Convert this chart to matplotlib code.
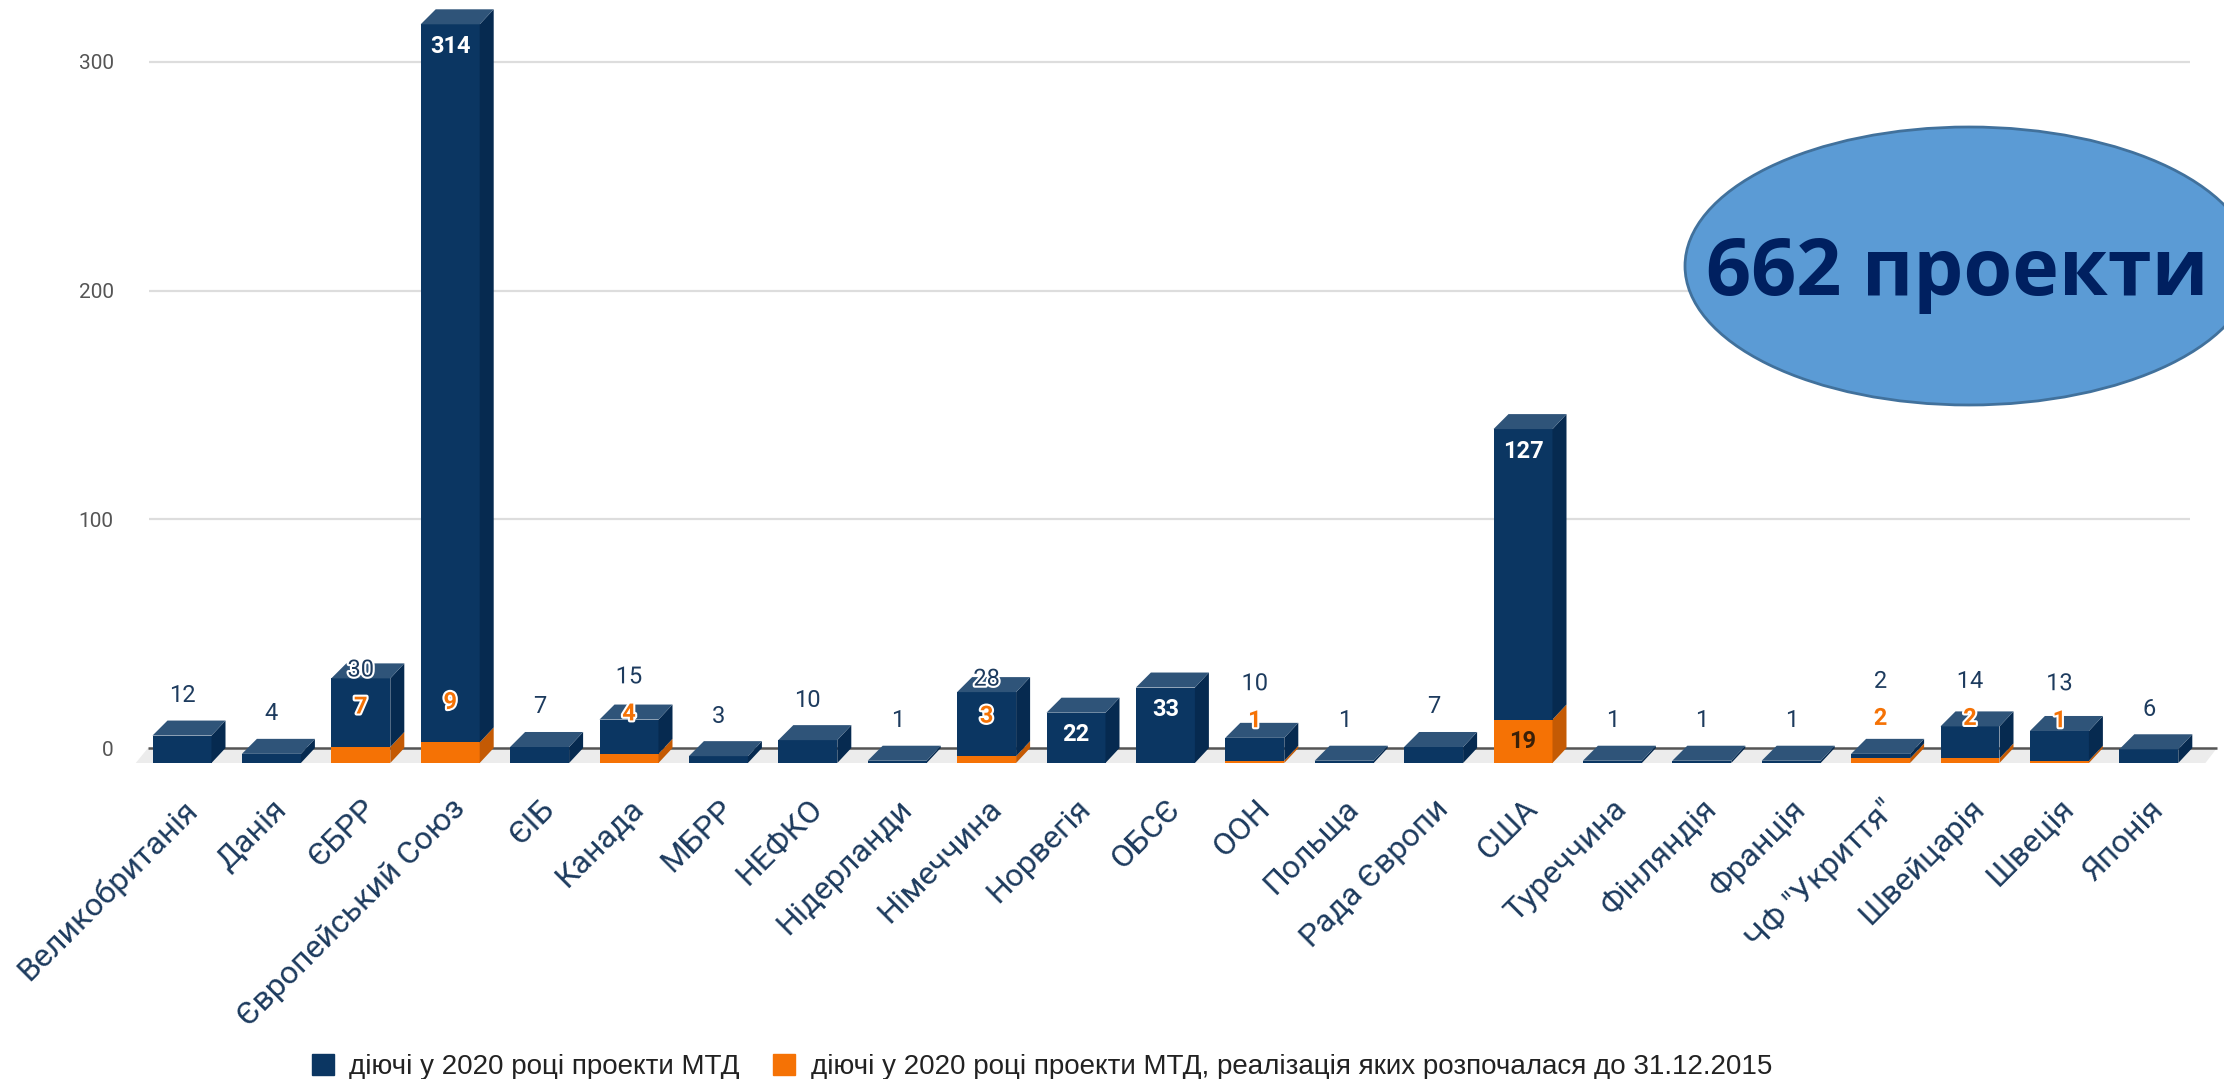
import matplotlib
matplotlib.use("Agg")
import matplotlib.pyplot as plt
import matplotlib.patheffects as pe
from matplotlib.patches import Polygon, Ellipse, Patch
from matplotlib.transforms import ScaledTranslation, IdentityTransform

categories = ["Великобританія", "Данія", "ЄБРР", "Європейський Союз", "ЄІБ", "Канада", "МБРР",
              "НЕФКО", "Нідерланди", "Німеччина", "Норвегія", "ОБСЄ", "ООН", "Польща",
              "Рада Європи", "США", "Туреччина", "Фінляндія", "Франція", 'ЧФ "Укриття"',
              "Швейцарія", "Швеція", "Японія"]
active_2020 = [12, 4, 30, 314, 7, 15, 3, 10, 1, 28, 22, 33, 10, 1, 7, 127, 1, 1, 1, 2, 14, 13, 6]
started_before_2016 = [0, 0, 7, 9, 0, 4, 0, 0, 0, 3, 0, 0, 1, 0, 0, 19, 0, 0, 0, 2, 2, 1, 0]
y_ticks = [0, 100, 200, 300]
legend_labels = ["діючі у 2020 році проекти МТД",
                 "діючі у 2020 році проекти МТД, реалізація яких розпочалася до 31.12.2015"]
badge_text = "662 проекти"

W, H = 2224, 1079
plt.rcParams['font.family'] = ['Roboto', 'DejaVu Sans']
fig = plt.figure(figsize=(W / 100, H / 100), dpi=100, facecolor='white')

PX_X, X0 = 89.4, 182.0       # px per category, px of first category
PX_Y, Y0 = 2.287, 763.0      # px per unit, px row of the front baseline
LEFT = 122
ax = fig.add_axes([LEFT / W, (H - Y0) / H, (W - LEFT) / W, Y0 / H])
ax.set_xlim((LEFT - X0) / PX_X, (W - X0) / PX_X)
ax.set_ylim(0, Y0 / PX_Y)
for s in ax.spines.values():
    s.set_visible(False)

HALF = 29.5 / PX_X
DXL, DXR, DY = 15 / PX_X, 14 / PX_X, 15 / PX_Y
px = lambda p: (p - X0) / PX_X
py = lambda p: (Y0 - p) / PX_Y

NAVY, NAVY_SIDE, NAVY_TOP = '#0b3662', '#062a50', '#2f5479'
ORANGE, ORANGE_SIDE = '#f57205', '#c45a04'
TEXT = '#1d3b5e'

# floor and grid
ax.add_patch(Polygon([(px(148), py(748)), (px(2217), py(748)), (px(2200), py(770)), (px(130), py(770))],
                     closed=True, fc='#ececec', ec='none', zorder=0))
ax.hlines([v + DY for v in y_ticks[1:]], px(149), px(2190), color='#dddddd', lw=1.6, zorder=1)
ax.hlines([DY], px(148), px(2217), color='#555555', lw=1.8, zorder=1)

ax.set_yticks([v + DY for v in y_ticks], [str(v) for v in y_ticks])
ax.tick_params(axis='y', length=0, pad=6, labelsize=15, labelcolor='#555555')
ax.set_xticks(range(len(categories)), categories)
ax.tick_params(axis='x', length=0, pad=0, labelsize=23, labelcolor=TEXT)
offset = ScaledTranslation(0 / 100, -31 / 100, fig.dpi_scale_trans)
for lab in ax.get_xticklabels():
    lab.set(rotation=45, ha='right', va='top', rotation_mode='anchor')
    lab.set_transform(lab.get_transform() + offset)

xs = list(range(len(categories)))
for x, a, b in zip(xs, active_2020, started_before_2016):
    total = a + b
    z = 3
    if b:
        ax.bar(x, b, width=2 * HALF, color=ORANGE, zorder=z)
        ax.add_patch(Polygon([(x + HALF, 0), (x + HALF + DXR, DY), (x + HALF + DXR, b + DY), (x + HALF, b)],
                             closed=True, fc=ORANGE_SIDE, ec='none', zorder=z))
    ax.bar(x, a, bottom=b, width=2 * HALF, color=NAVY, zorder=z)
    ax.add_patch(Polygon([(x + HALF, b), (x + HALF + DXR, b + DY), (x + HALF + DXR, total + DY), (x + HALF, total)],
                         closed=True, fc=NAVY_SIDE, ec='none', zorder=z))
    ax.add_patch(Polygon([(x - HALF, total), (x + HALF, total), (x + HALF + DXR, total + DY), (x - HALF + DXL, total + DY)],
                         closed=True, fc=NAVY_TOP, ec='none', zorder=z))

halo = [pe.withStroke(linewidth=3, foreground='white')]
FS = 17
label_kw = dict(ha='center', va='center', fontsize=FS, zorder=6)
for x, a, b in zip(xs, active_2020, started_before_2016):
    total = a + b
    if a >= 100 or (b == 0 and a >= 20):
        ax.text(x, total - 22 / PX_Y, str(a), fontweight='bold', color='white', **label_kw)
    elif b == 0:
        ax.text(x, a + 40 / PX_Y, str(a), color=TEXT, **label_kw)
    else:
        ax.text(x, b + 77 / PX_Y, str(a), color=TEXT, path_effects=halo, **label_kw)
    if b >= 10:
        ax.text(x, b / 2, str(b), fontweight='bold', color='#3a2008', **label_kw)
    elif b:
        ax.text(x, b + 40 / PX_Y, str(b), fontweight='bold', color=ORANGE, path_effects=halo, **label_kw)

fig.legend(handles=[Patch(color=NAVY), Patch(color=ORANGE)], labels=legend_labels, ncol=2,
           loc='center', bbox_to_anchor=(1042 / W, (H - 1067) / H), frameon=False,
           prop={'family': 'Liberation Sans', 'size': 20},
           handlelength=0.8, handleheight=0.8, handletextpad=0.55, columnspacing=1.2, labelcolor='#222222')

# badge, in figure pixels
fig.add_artist(Ellipse((1969, H - 266), 568, 278, transform=IdentityTransform(), fc='#5b9bd5', ec='#41719c', lw=2))
fig.text(1957 / W, (H - 275) / H, badge_text, ha='center', va='center', fontsize=57, fontweight='bold',
         color='#002060', family='Open Sans')

fig.savefig('out.png', dpi=100, facecolor='white')
